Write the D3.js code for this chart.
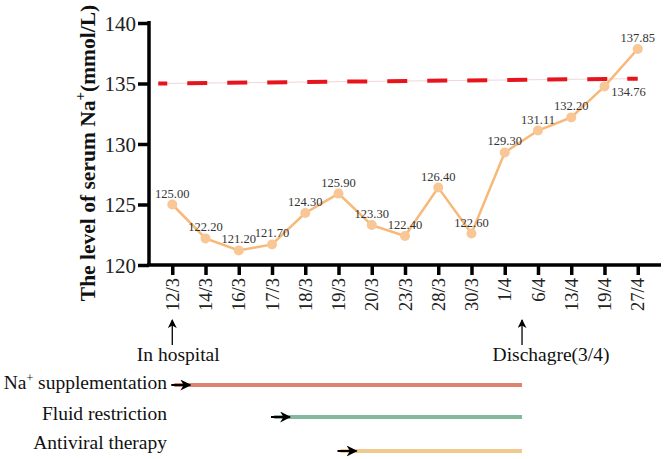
<!DOCTYPE html>
<html>
<head>
<meta charset="utf-8">
<script src="https://cdn.jsdelivr.net/npm/d3@7"></script>
<style>
  body { margin: 0; background: #fff; }
  svg { display: block; }
  svg text { font-family: "Liberation Serif", "DejaVu Serif", serif !important; }
</style>
</head>
<body>
<div id="chart"></div>
<script>
// data
var dates = ["12/3", "14/3", "16/3", "17/3", "18/3", "19/3", "20/3", "23/3", "28/3", "30/3", "1/4", "6/4", "13/4", "19/4", "27/4"];
var sodium = [125.00, 122.20, 121.20, 121.70, 124.30, 125.90, 123.30, 122.40, 126.40, 122.60, 129.30, 131.11, 132.20, 134.76, 137.85];
var yTicks = [120, 125, 130, 135, 140];
var refLine = [135, 135.4]; // normal level line (drawn slightly tilted in the original)
var treatments = ["Na+ supplementation", "Fluid restriction", "Antiviral therapy"];
var treatStart = ["12/3", "17/3", "19/3"];
var treatColor = ["#dc8470", "#86b89e", "#f1c98f"];

const W = 664, H = 459;
const svg = d3.select("#chart").append("svg").attr("width", W).attr("height", H);

var x = d3.scalePoint().domain(dates).range([149, 661]).padding(0.7);
var y = d3.scaleLinear().domain([120, 140]).range([265, 23]);

// y axis
var yAxis = svg.append("g").attr("transform", "translate(149,0)")
    .call(d3.axisLeft(y).tickValues(yTicks).tickSize(11).tickSizeOuter(0).tickPadding(2));
yAxis.select(".domain").attr("stroke", "#000").attr("stroke-width", 3.5)
    .attr("d", "M0," + (y(140) - 2) + "V" + y(120));
yAxis.selectAll(".tick line").attr("stroke-width", 3.5);
yAxis.selectAll(".tick text").attr("font-size", "21px").attr("fill", "#222").attr("dy", "0.34em");

// x axis
var xAxis = svg.append("g").attr("transform", "translate(0," + y(120) + ")")
    .call(d3.axisBottom(x).tickSize(10).tickSizeOuter(0));
xAxis.select(".domain").attr("stroke-width", 3.5).attr("d", "M147,0H661");
xAxis.selectAll(".tick line").attr("stroke-width", 3.5);
xAxis.selectAll(".tick text")
    .attr("font-size", "18.5px").attr("fill", "#222")
    .attr("transform", "rotate(-90)")
    .attr("x", -13).attr("y", 0).attr("dy", "0.33em")
    .style("text-anchor", "end");

// y title
var yTitle = svg.append("text")
    .attr("transform", "translate(95,153) rotate(-90)")
    .attr("text-anchor", "middle")
    .attr("font-size", "21.5px").attr("font-weight", "bold").attr("fill", "#111");
yTitle.append("tspan").text("The level of serum Na");
yTitle.append("tspan").attr("dy", -10).attr("font-size", "15px").text("+");
yTitle.append("tspan").attr("dy", 10).text("(mmol/L)");

// reference line at 135
var xr0 = x(dates[0]) - 14, xr1 = x(dates[dates.length - 1]);
svg.append("line")
    .attr("x1", xr0).attr("x2", xr1)
    .attr("y1", y(refLine[0])).attr("y2", y(refLine[1]))
    .attr("stroke", "#f6d3d6").attr("stroke-width", 1);
svg.append("line")
    .attr("x1", xr0).attr("x2", xr1)
    .attr("y1", y(refLine[0])).attr("y2", y(refLine[1]))
    .attr("stroke", "#e5141d").attr("stroke-width", 4)
    .attr("stroke-dasharray", "20,20").attr("stroke-dashoffset", 11);

// sodium line
var line = d3.line().x((d, i) => x(dates[i])).y(d => y(d));
svg.append("path").datum(sodium)
    .attr("d", line).attr("fill", "none")
    .attr("stroke", "#f7b878").attr("stroke-width", 2.5);

svg.selectAll(".pt").data(sodium).enter().append("circle")
    .attr("class", "pt")
    .attr("cx", (d, i) => x(dates[i])).attr("cy", d => y(d))
    .attr("r", 5).attr("fill", "#f9c696");

svg.selectAll(".lbl").data(sodium).enter().append("text")
    .attr("class", "lbl")
    .attr("x", (d, i) => x(dates[i]) + (d === 134.76 ? 24 : 0))
    .attr("y", d => y(d) + (d === 134.76 ? 10 : -7))
    .attr("text-anchor", "middle")
    .attr("font-size", "12.5px").attr("fill", "#333")
    .text(d => d.toFixed(2));

// arrow heads
var arrowDefs = svg.append("defs");
arrowDefs.append("marker").attr("id", "head")
    .attr("viewBox", "0 0 10 10").attr("refX", 9).attr("refY", 5)
    .attr("markerWidth", 9).attr("markerHeight", 9).attr("orient", "auto")
    .attr("markerUnits", "userSpaceOnUse")
    .append("path").attr("d", "M0,0L10,5L0,10L3,5Z").attr("fill", "#000");
arrowDefs.append("marker").attr("id", "head2")
    .attr("viewBox", "0 0 10 10").attr("refX", 9).attr("refY", 5)
    .attr("markerWidth", 11).attr("markerHeight", 11).attr("orient", "auto")
    .attr("markerUnits", "userSpaceOnUse")
    .append("path").attr("d", "M0,0L10,5L0,10L3,5Z").attr("fill", "#000");

// admission / discharge markers
var xAdmit = x("12/3");
var xDischarge = x("1/4") + x.step() * 0.52;
var marks = [{ at: xAdmit, label: "In hospital", dx: 6 }, { at: xDischarge, label: "Dischagre(3/4)", dx: 29 }];
marks.forEach(m => {
    svg.append("line").attr("x1", m.at).attr("x2", m.at).attr("y1", 345).attr("y2", 320)
        .attr("stroke", "#000").attr("stroke-width", 1.3).attr("marker-end", "url(#head)");
    svg.append("text").attr("x", m.at + m.dx).attr("y", 361).attr("text-anchor", "middle")
        .attr("font-size", "19.5px").attr("fill", "#111").text(m.label);
});

// treatment bars
var rowY = [385, 417, 451];
var labelY = [389, 420, 449];
treatments.forEach((t, i) => {
    var x0 = x(treatStart[i]) + 2;
    svg.append("line").attr("x1", x0).attr("x2", xDischarge)
        .attr("y1", rowY[i]).attr("y2", rowY[i])
        .attr("stroke", treatColor[i]).attr("stroke-width", 4);
    svg.append("line").attr("x1", x0 - 3).attr("x2", x0 + 16)
        .attr("y1", rowY[i]).attr("y2", rowY[i])
        .attr("stroke", "#000").attr("stroke-width", 2).attr("marker-end", "url(#head2)");
    var lab = svg.append("text").attr("x", 167).attr("y", labelY[i])
        .attr("text-anchor", "end").attr("font-size", "19.5px").attr("fill", "#111");
    if (t.indexOf("Na+") === 0) {
        lab.append("tspan").text("Na");
        lab.append("tspan").attr("dy", -7).attr("font-size", "12px").text("+");
        lab.append("tspan").attr("dy", 7).text(t.slice(3));
    } else {
        lab.text(t);
    }
});
</script>
</body>
</html>
